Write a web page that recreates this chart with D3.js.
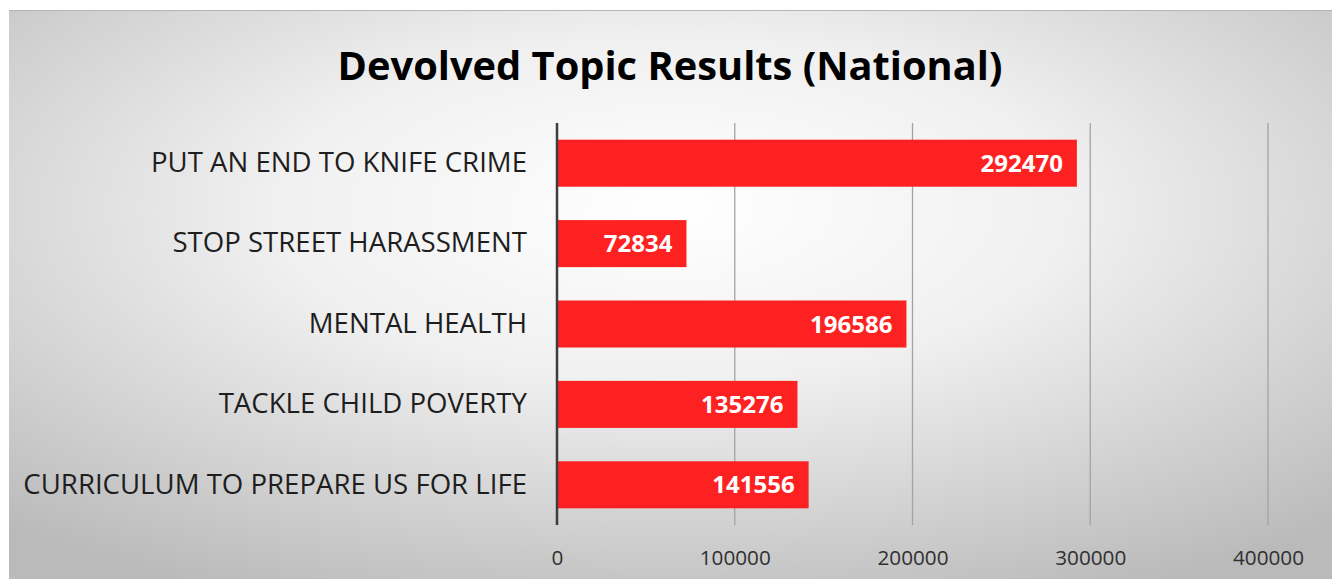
<!DOCTYPE html>
<html>
<head>
<meta charset="utf-8">
<script src="https://cdn.jsdelivr.net/npm/d3@7"></script>
<style>
  html, body { margin: 0; padding: 0; background: #fff; }
  svg { display: block; font-family: "Open Sans", "Noto Sans", sans-serif; }
</style>
</head>
<body>
<svg id="chart"></svg>
<script>
// chart data
var categories = [
    "PUT AN END TO KNIFE CRIME",
    "STOP STREET HARASSMENT",
    "MENTAL HEALTH",
    "TACKLE CHILD POVERTY",
    "CURRICULUM TO PREPARE US FOR LIFE"
];
var values = [292470, 72834, 196586, 135276, 141556];
var xTicks = [0, 100000, 200000, 300000, 400000];
var title = "Devolved Topic Results (National)";

var svgWidth = 1335;
var svgHeight = 579;

var svg = d3.select("#chart")
    .attr("width", svgWidth)
    .attr("height", svgHeight);

// background panel with soft radial shading
var defs = svg.append("defs");
var grad = defs.append("radialGradient")
    .attr("id", "bg")
    .attr("cx", "50%").attr("cy", "35%").attr("r", "75%");
grad.append("stop").attr("offset", "0%").attr("stop-color", "#ffffff");
grad.append("stop").attr("offset", "40%").attr("stop-color", "#f0f0f0");
grad.append("stop").attr("offset", "100%").attr("stop-color", "#bababa");

svg.append("rect")
    .attr("x", 9).attr("y", 10)
    .attr("width", 1323).attr("height", 569)
    .attr("fill", "url(#bg)");
svg.append("line")
    .attr("x1", 9).attr("x2", 1332)
    .attr("y1", 10.5).attr("y2", 10.5)
    .attr("stroke", "#b5b5b5");

// scales
var x = d3.scaleLinear()
    .domain([0, 400000])
    .range([557, 1268]);

var y = d3.scaleBand()
    .domain(categories)
    .range([123, 525])
    .paddingInner(0.415)
    .paddingOuter(0.2075);

// title
svg.append("text")
    .attr("x", 670)
    .attr("y", 80)
    .attr("text-anchor", "middle")
    .attr("font-size", 39.8)
    .attr("font-weight", "bold")
    .attr("fill", "#000")
    .text(title);

// gridlines
svg.append("g").selectAll("line.grid")
    .data(xTicks.slice(1))
    .enter()
    .append("line")
    .attr("class", "grid")
    .attr("x1", function (d) { return x(d); })
    .attr("x2", function (d) { return x(d); })
    .attr("y1", y.range()[0])
    .attr("y2", y.range()[1])
    .attr("stroke", "#a3a3a3")
    .attr("stroke-width", 1.3);

// bars
svg.append("g").selectAll("rect")
    .data(values)
    .enter()
    .append("rect")
    .attr("x", x(0))
    .attr("y", function (d, i) { return y(categories[i]); })
    .attr("width", function (d) { return x(d) - x(0); })
    .attr("height", y.bandwidth())
    .attr("fill", "#fe2121");

// zero axis line
svg.append("line")
    .attr("x1", x(0)).attr("x2", x(0))
    .attr("y1", y.range()[0]).attr("y2", y.range()[1])
    .attr("stroke", "#3d3d3d")
    .attr("stroke-width", 2.5);

// value labels inside bar ends
svg.append("g").selectAll("text.val")
    .data(values)
    .enter()
    .append("text")
    .attr("class", "val")
    .attr("x", function (d) { return x(d) - 14; })
    .attr("y", function (d, i) { return y(categories[i]) + y.bandwidth() / 2; })
    .attr("dy", "0.36em")
    .attr("text-anchor", "end")
    .attr("font-size", 24)
    .attr("font-weight", "bold")
    .attr("fill", "#fff")
    .text(function (d) { return d; });

// category labels
var yAxis = d3.axisLeft(y).tickSize(0).tickPadding(0);
var yg = svg.append("g")
    .attr("transform", "translate(527,0)")
    .call(yAxis);
yg.select(".domain").remove();
yg.selectAll("text")
    .attr("font-family", "Open Sans, sans-serif")
    .attr("font-size", 27.6)
    .attr("fill", "#1e1e1e");

// x tick labels
var xAxis = d3.axisBottom(x)
    .tickValues(xTicks)
    .tickSize(0)
    .tickPadding(0)
    .tickFormat(function (d) { return d; });
var xg = svg.append("g")
    .attr("transform", "translate(0,550)")
    .call(xAxis);
xg.select(".domain").remove();
xg.selectAll("text")
    .attr("font-family", "Open Sans, sans-serif")
    .attr("font-size", 20.7)
    .attr("fill", "#303030");
</script>
</body>
</html>
